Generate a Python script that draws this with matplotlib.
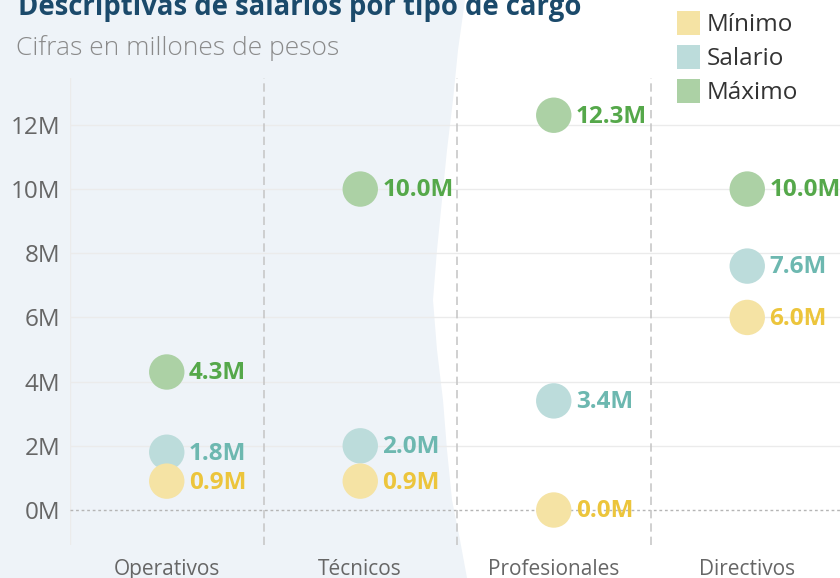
import matplotlib.pyplot as plt
from matplotlib.patches import Polygon

plt.rcParams['font.family'] = ['Open Sans', 'DejaVu Sans']

# data (millones de pesos)
cargos = ["Operativos", "Técnicos", "Profesionales", "Directivos"]
minimo = [0.9, 0.9, 0.0, 6.0]
salario = [1.8, 2.0, 3.4, 7.6]
maximo = [4.3, 10.0, 12.3, 10.0]
yticks = [0, 2, 4, 6, 8, 10, 12]
ytick_labels = ["0M", "2M", "4M", "6M", "8M", "10M", "12M"]

series = [
    ("Máximo", maximo, "#55a84a", "#acd1a5"),
    ("Salario", salario, "#6db8b0", "#bcdcdb"),
    ("Mínimo", minimo, "#ecc53c", "#f5e3a4"),
]

W, H = 840, 578
fig = plt.figure(figsize=(8.4, 5.78), dpi=100)
fig.patch.set_facecolor("white")

# light blue background on the left with a wavy edge
edge = [(465, 0), (458, 50), (453, 100), (447, 150), (442, 200), (437, 250), (433, 300),
        (437, 350), (443, 400), (447, 450), (452, 500), (460, 540), (467, 578)]
pts = [(0, 0)] + edge + [(0, H)]
bg = Polygon([(x / W, 1 - y / H) for x, y in pts], closed=True,
             transform=fig.transFigure, facecolor="#eef3f8", edgecolor="none", zorder=-5)
fig.patches.append(bg)

ax = fig.add_axes([70 / W, 33 / H, 774 / W, 467 / H])
ax.set_zorder(2)
ax.set_facecolor("none")
ax.set_xlim(-0.5, 3.5)
ax.set_ylim(-1.09, 13.46)

for s in ax.spines.values():
    s.set_visible(False)
ax.axvline(-0.5, color="#ebebeb", lw=1, zorder=0)

for t in yticks[1:]:
    ax.axhline(t, color="#ebebeb", lw=1, zorder=0)
ax.axhline(0, color="#b5b5b5", lw=1, ls=(0, (2, 2)), zorder=1)
for xs in [0.5, 1.5, 2.5]:
    ax.axvline(xs, color="#c8c8c8", lw=1.2, ls=(0, (5, 3)), zorder=1)

x = range(len(cargos))
for name, vals, tc, mc in series:
    ax.scatter(x, vals, s=650, color=mc, edgecolors="none", zorder=3)
    for xi, v in zip(x, vals):
        ax.annotate(f"{v:.1f}M", (xi, v), xytext=(16, -1), textcoords="offset points",
                    ha="left", va="center", color=tc, fontsize=17.5, fontweight="bold",
                    zorder=4)

ax.set_yticks(yticks)
ax.set_yticklabels(ytick_labels)
ax.set_xticks(list(x))
ax.set_xticklabels(cargos)
ax.tick_params(axis="y", length=0, pad=7, labelsize=17.5, labelcolor="#666666")
ax.tick_params(axis="x", length=0, pad=10, labelsize=15, labelcolor="#666666")

# titles
fig.text(18 / W, 1 - 15 / H, "Descriptivas de salarios por tipo de cargo", ha="left",
         va="baseline", fontsize=19.8, fontweight="bold", color="#1b4a6b")
fig.text(16 / W, 1 - 55 / H, "Cifras en millones de pesos", ha="left", va="baseline",
         fontsize=19, fontweight="light", color="#8a8a8a")

# legend
for i, (name, _, tc, mc) in enumerate(series[::-1]):
    yc = 23 + 34 * i
    fig.patches.append(plt.Rectangle((677 / W, 1 - (yc + 11.5) / H), 23 / W, 23 / H,
                                     transform=fig.transFigure, facecolor=mc,
                                     edgecolor="none"))
    fig.text(707 / W, 1 - (yc + 2) / H, name, ha="left", va="center", fontsize=17.5,
             color="#333333")

fig.savefig("out.png", dpi=100)
